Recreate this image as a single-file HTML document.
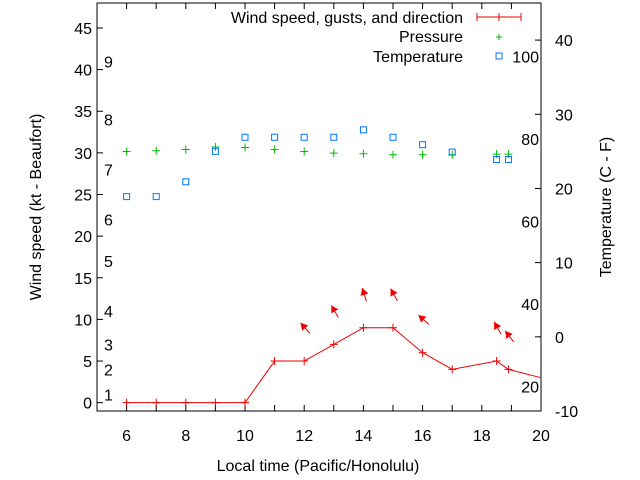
<!DOCTYPE html>
<html><head><meta charset="utf-8"><style>
body{margin:0;background:#fff}
svg{display:block;font-family:"Liberation Sans",sans-serif;font-size:16px}
</style></head><body>
<svg id="c" width="640" height="480" viewBox="0 0 640 480">
<g id="axes"></g><g id="marks"></g>
<text x="318" y="471" text-anchor="middle">Local time (Pacific/Honolulu)</text>
<text transform="translate(41,207) rotate(-90)" text-anchor="middle">Wind speed (kt - Beaufort)</text>
<text transform="translate(611,207) rotate(-90)" text-anchor="middle">Temperature (C - F)</text>
<g>
<text x="463" y="23" text-anchor="end">Wind speed, gusts, and direction</text>
<path d="M477,17H521M477,13V21M521,13V21M499,13V21" stroke="#e00" fill="none"/>
<text x="463" y="42" text-anchor="end">Pressure</text>
<path d="M496,37H502M499,34V40" stroke="#0b0"/>
<text x="463" y="62" text-anchor="end">Temperature</text>
<rect x="496" y="53" width="6" height="6" fill="none" stroke="#07f"/>
</g>
</svg>
<script>
const times=[6,7,8,9,10,11,12,13,14,15,16,17,18.5,18.9,20];
const wind=[0,0,0,0,0,5,5,7,9,9,6,4,5,4,3];
const arrowTimes=[12,13,14,15,16,18.5,18.9];
const arrowWind=[5,7,9,9,6,5,4];
const arrowDir=[318,330,343,331,312,331,322];
const pTimes=[6,7,8,9,10,11,12,13,14,15,16,17,18.5,18.9];
const pressure=[30.17,30.25,30.4,30.7,30.65,30.4,30.17,29.97,29.9,29.77,29.77,29.77,29.85,29.85];
const tempC=[18.9,18.9,20.9,25.0,26.9,26.9,26.9,26.9,27.9,26.9,25.9,24.9,23.9,23.9];
const xTicks=[6,8,10,12,14,16,18,20];
const yTicks=[0,5,10,15,20,25,30,35,40,45];
const y2Ticks=[-10,0,10,20,30,40];
const fTicks=[20,40,60,80,100];
const beaufort=[1,4,7,11,17,22,28,34,41];
const L=97,R=541,T=3,B=411;
const X=t=>L+(t-5)*(R-L)/15;
const Y=v=>B-(v+1)*(B-T)/49;
const Y2=c=>B-(c+10)*(B-T)/55;
const NS="http://www.w3.org/2000/svg";
const ax=document.getElementById('axes'),mk=document.getElementById('marks');
function el(p,tag,a,txt){const e=document.createElementNS(NS,tag);for(const k in a)e.setAttribute(k,a[k]);if(txt!=null)e.textContent=txt;p.appendChild(e);return e;}
let e=el(ax,'rect',{x:L,y:T,width:R-L,height:B-T,fill:'none',stroke:'#000'});


for(let t=5;t<=20;t++){
 const x=X(t);
 e=el(ax,'path',{d:`M${x},${B}v-6M${x},${T}v6`,stroke:'#000'});
 
 
}
xTicks.forEach(t=>{
 e=el(ax,'text',{x:X(t),y:441,'text-anchor':'middle'},t);
 
 
});
yTicks.forEach(v=>{
 e=el(ax,'path',{d:`M${L},${Y(v)}h6`,stroke:'#000'});
 
 
 e=el(ax,'text',{x:L-5,y:Y(v)+6,'text-anchor':'end'},v);
 
 
});
y2Ticks.forEach(c=>{
 e=el(ax,'path',{d:`M${R},${Y2(c)}h-6`,stroke:'#000'});
 
 
 e=el(ax,'text',{x:R+14,y:Y2(c)+6},c);
 
 
});
fTicks.forEach(f=>{
 e=el(ax,'text',{x:R-2,y:Y2((f-32)*5/9)+6,'text-anchor':'end'},f);
 
 
});
beaufort.forEach((k,i)=>{
 e=el(ax,'text',{x:104,y:Y(k)+6},i+1);
 
 
});
e=el(mk,'polyline',{points:times.map((t,i)=>`${Math.min(X(t),R)},${Y(wind[i])}`).join(' '),fill:'none',stroke:'#e00'});


times.forEach((t,i)=>{
 if(t>=20)return;
 const x=X(t),y=Y(wind[i]);
 e=el(mk,'path',{d:`M${x-4},${y}h8M${x},${y-4}v8`,stroke:'#e00'});
 
 
});
arrowTimes.forEach((t,i)=>{
 const cx=X(t)+1,cy=Y(arrowWind[i])-33,a=arrowDir[i]*Math.PI/180;
 const dx=Math.sin(a),dy=-Math.cos(a),len=14;
 const hx=cx+dx*len/2,hy=cy+dy*len/2,tx=cx-dx*len/2,ty=cy-dy*len/2;
 const px=-dy,py=dx;
 const g=el(mk,'g',{});
 
 
 el(g,'line',{x1:tx,y1:ty,x2:hx,y2:hy,stroke:'#e00'});
 el(g,'polygon',{points:`${hx},${hy} ${hx-dx*7+px*4},${hy-dy*7+py*4} ${hx-dx*7-px*4},${hy-dy*7-py*4}`,fill:'#e00'});
});
pTimes.forEach((t,i)=>{
 const x=X(t),y=Y(pressure[i]);
 e=el(mk,'path',{d:`M${x-4},${y}h8M${x},${y-4}v8`,stroke:'#0b0'});
 
 
});
pTimes.forEach((t,i)=>{
 e=el(mk,'rect',{x:X(t)-3,y:Y2(tempC[i])-3,width:6,height:6,fill:'none',stroke:'#07f'});
 
 
});
</script>
</body></html>
